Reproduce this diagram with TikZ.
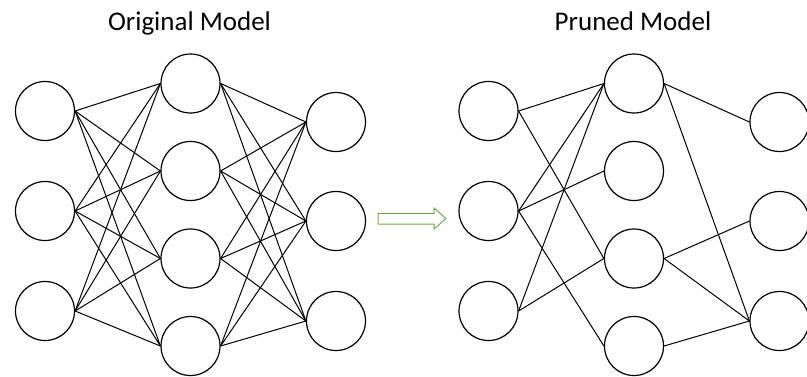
\documentclass[tikz,border=0pt]{standalone}
\usepackage{fontspec}
\setmainfont{Carlito}
\definecolor{arrowgreen}{RGB}{112,173,71}

\begin{document}
\begin{tikzpicture}[x=1pt,y=-1pt,
  neuron/.style={draw,circle,minimum size=59pt,inner sep=0pt,line width=1.2pt},
  link/.style={line width=1pt},
  title/.style={font=\fontsize{27}{32}\selectfont,anchor=base}]
\useasboundingbox (0,0) rectangle (807,376);

%%%%% original model
\def\pos{0}
\node[title] (otitle) at (\pos+189.5,30) {Original Model};
\foreach \y [count=\i] in {111,211,311}
  \node[neuron] (oi\i) at (\pos+45,\y) {};
\foreach \y [count=\i] in {83.5,171,258.5,346}
  \node[neuron] (oh\i) at (\pos+190.5,\y) {};
\foreach \y [count=\i] in {122,221,321}
  \node[neuron] (oo\i) at (\pos+336,\y) {};

\foreach \i in {1,2,3}
  \foreach \j in {1,...,4}
  {
    \draw[link] (oi\i.east) -- (oh\j.west);
    \draw[link] (oh\j.east) -- (oo\i.west);
  }

%%%%% arrow
\draw[arrowgreen,line width=1pt,fill=white] (378,213.3) -- (434,213.3) -- (434,208)
  -- (446,218.5) -- (434,229) -- (434,224) -- (378,224) -- cycle;

%%%%% pruned model
\def\pos{443.5}
\node[title] (ptitle) at (\pos+189.5,30) {Pruned Model};
\foreach \y [count=\i] in {111,211,311}
  \node[neuron] (pi\i) at (\pos+45,\y) {};
\foreach \y [count=\i] in {83.5,171,258.5,346}
  \node[neuron] (ph\i) at (\pos+190.5,\y) {};
\foreach \y [count=\i] in {122,221,321}
  \node[neuron] (po\i) at (\pos+336,\y) {};

\foreach \i/\j in {1/1,1/3,2/1,2/2,2/4,3/1,3/3}
  \draw[link] (pi\i.east) -- (ph\j.west);
\foreach \j/\k in {1/1,1/3,3/2,3/3,4/3}
  \draw[link] (ph\j.east) -- (po\k.west);

\end{tikzpicture}
\end{document}
